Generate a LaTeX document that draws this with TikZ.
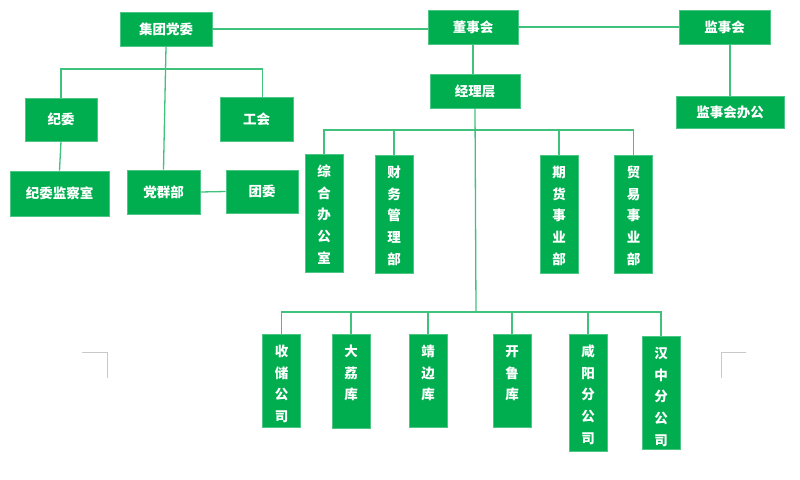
\documentclass[tikz,border=0pt]{standalone}
\usepackage{fontspec}
\newfontfamily\cjk{Noto Sans CJK SC}
\usepackage{tikz}
\usetikzlibrary{positioning}
\definecolor{boxgreen}{RGB}{0,174,80}
\definecolor{markgray}{RGB}{200,200,200}

\begin{document}
\begin{tikzpicture}[x=1pt,y=-1pt,line width=1.3pt]
\tikzstyle{every node}=[font=\cjk\bfseries\fontsize{13.5}{21.7}\selectfont,text=white]
\tikzstyle{hbox}=[fill=boxgreen,draw=boxgreen!70,line width=0.6pt,inner sep=0pt]
\tikzstyle{vbox}=[fill=boxgreen,draw=boxgreen!70,line width=0.6pt,anchor=north,text width=14pt,align=center,inner xsep=12pt,inner ysep=0pt,text height=22pt,text depth=#1]
\tikzstyle{link}=[draw=boxgreen!75]
\path[use as bounding box] (0,0) rectangle (800,479);
% top level
\path node[hbox,minimum width=92pt,minimum height=34pt] (dw) at (166,29) {集团党委};
\path node[hbox,minimum width=90pt,minimum height=34pt] (dsh) at (473,27) {董事会};
\path node[hbox,minimum width=91pt,minimum height=34pt] (jsh) at (724.5,27) {监事会};
\path[link] (dw.east) -- (dw.east -| dsh.west);
\path[link] (dsh.east) -- (dsh.east -| jsh.west);
% party side
\path node[hbox,minimum width=72pt,minimum height=43pt] (jw) at (61,119.5) {纪委};
\path node[hbox,minimum width=73pt,minimum height=44pt] (gh) at (256.5,119) {工会};
\path node[hbox,minimum width=99pt,minimum height=45pt] (jcs) at (59.5,193.5) {纪委监察室};
\path node[hbox,minimum width=73pt,minimum height=44pt] (dqb) at (163.5,192) {党群部};
\path node[hbox,minimum width=72pt,minimum height=43pt] (tw) at (262,191.5) {团委};
\coordinate (bus1) at (166,69);
\path[link] (jw.north) |- (bus1) -| ([xshift=6pt]gh.north);
\path[link] (dw.south) -- (dqb.north);
\path[link] (jw.south) -- (jcs.north);
\path[link] (dqb.east) -- (tw.west);
% supervisors
\path node[hbox,minimum width=108pt,minimum height=32pt] (jsb) at (730,112) {监事会办公};
\path[link] (jsb.north) -- (jsb.north |- jsh.south);
% management
\path node[hbox,minimum width=90pt,minimum height=34pt] (jlc) at (475,91) {经理层};
\path[link] (dsh.south) -- (dsh.south |- jlc.north);
\coordinate (bus2) at (476,130);
\coordinate (bus3) at (476,312);
\path[link] (jlc.south) -- (bus3);
\path node[vbox=96pt] (zhb) at (324,154) {综\\合\\办\\公\\室};
\path node[vbox=96pt] (cwb) at (394,155) {财\\务\\管\\理\\部};
\path node[vbox=96pt] (qhb) at (559,155) {期\\货\\事\\业\\部};
\path node[vbox=96pt] (myb) at (633.5,155) {贸\\易\\事\\业\\部};
\path[link] (zhb.north) |- (bus2) -| (myb.north);
\path[link] (cwb.north) -- (cwb.north |- bus2);
\path[link] (qhb.north) -- (qhb.north |- bus2);
% branches
\path node[vbox=71pt] (scg) at (281.5,334) {收\\储\\公\\司};
\path node[vbox=72pt] (dlk) at (351,334) {大\\荔\\库};
\path node[vbox=71pt] (jbk) at (428,334) {靖\\边\\库};
\path node[vbox=71pt] (klk) at (512,334) {开\\鲁\\库};
\path node[vbox=95pt] (xyg) at (588,334) {咸\\阳\\分\\公\\司};
\path node[vbox=91pt] (hzg) at (661,336) {汉\\中\\分\\公\\司};
\path[link] (scg.north) |- (bus3) -| (hzg.north);
\path[link] (dlk.north) -- (dlk.north |- bus3);
\path[link] (jbk.north) -- (jbk.north |- bus3);
\path[link] (klk.north) -- (klk.north |- bus3);
\path[link] (xyg.north) -- (xyg.north |- bus3);
% page corner marks
\draw[markgray,line width=0.8pt] (82,352) -| (107,378);
\draw[markgray,line width=0.8pt] (746,352) -| (721,378);
\end{tikzpicture}
\end{document}
